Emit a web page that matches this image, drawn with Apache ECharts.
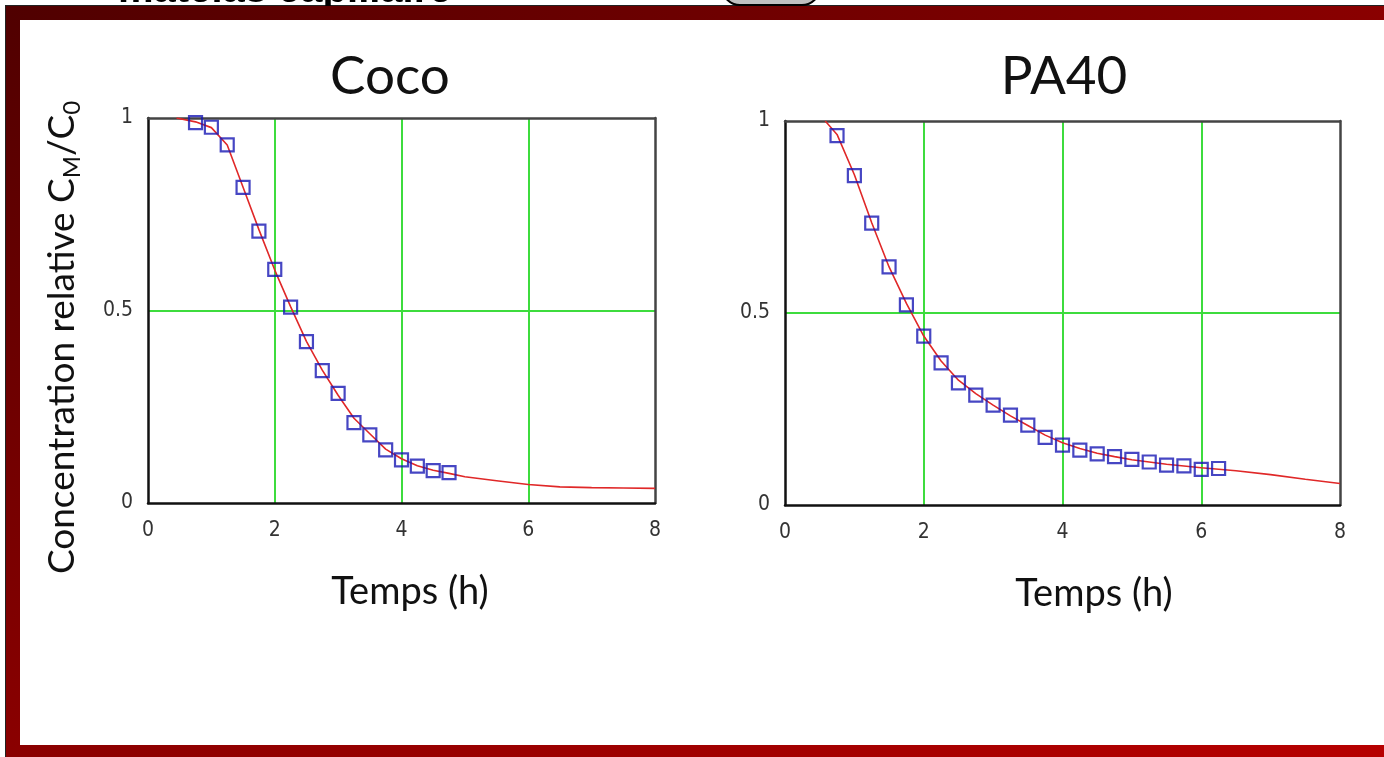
<!DOCTYPE html>
<html>
<head>
<meta charset="utf-8">
<script src="https://cdn.jsdelivr.net/npm/echarts@6/dist/echarts.min.js"></script>
<style>
  html, body { margin:0; padding:0; width:1384px; height:757px; overflow:hidden; background:#fff; }
  #frame { position:absolute; left:5px; top:5px; width:1400px; height:760px;
    border-top:1px solid #222; border-left:1px solid #222;
    background: linear-gradient(to bottom right, #500000 0%, #8b0000 50%, #b80000 100%); }
  #inner { position:absolute; left:20px; top:20px; width:1400px; height:725px; background:#fff; }
  #chart { position:absolute; left:0; top:0; width:1384px; height:757px; }
</style>
</head>
<body>
<div id="frame"></div>
<div id="inner"></div>
<div id="chart"></div>
<script>
// ---- data ----
const titles = ['Coco', 'PA40'];
const xTicks = [0, 2, 4, 6, 8];
const yTicks = [0, 0.5, 1];
const xName = 'Temps (h)';

const cocoX = [0.75, 1.0, 1.25, 1.5, 1.75, 2.0, 2.25, 2.5, 2.75, 3.0, 3.25, 3.5, 3.75, 4.0, 4.25, 4.5, 4.75];
const cocoY = [0.988, 0.976, 0.930, 0.820, 0.706, 0.607, 0.509, 0.419, 0.344, 0.285, 0.209, 0.177, 0.138, 0.112, 0.096, 0.084, 0.079];

const cocoFitX = [0.45, 0.75, 1.0, 1.25, 1.5, 1.75, 2.0, 2.25, 2.5, 2.75, 3.0, 3.25, 3.5, 3.75, 4.0, 4.25, 4.5, 4.75, 5.0, 5.5, 6.0, 6.5, 7.0, 7.5, 8.0];
const cocoFitY = [1.0, 0.99, 0.975, 0.93, 0.82, 0.71, 0.605, 0.51, 0.42, 0.345, 0.28, 0.22, 0.18, 0.14, 0.115, 0.097, 0.085, 0.077, 0.068, 0.058, 0.048, 0.042, 0.040, 0.039, 0.038];

const pa40X = [0.75, 1.0, 1.25, 1.5, 1.75, 2.0, 2.25, 2.5, 2.75, 3.0, 3.25, 3.5, 3.75, 4.0, 4.25, 4.5, 4.75, 5.0, 5.25, 5.5, 5.75, 6.0, 6.25];
const pa40Y = [0.962, 0.858, 0.734, 0.620, 0.521, 0.440, 0.370, 0.318, 0.286, 0.260, 0.234, 0.208, 0.176, 0.156, 0.143, 0.133, 0.126, 0.119, 0.112, 0.104, 0.102, 0.093, 0.095];

const pa40FitX = [0.58, 0.75, 1.0, 1.25, 1.5, 1.75, 2.0, 2.25, 2.5, 2.75, 3.0, 3.25, 3.5, 3.75, 4.0, 4.25, 4.5, 4.75, 5.0, 5.5, 6.0, 6.5, 7.0, 7.5, 8.0];
const pa40FitY = [1.0, 0.965, 0.86, 0.735, 0.62, 0.525, 0.44, 0.375, 0.325, 0.29, 0.26, 0.232, 0.207, 0.182, 0.162, 0.147, 0.135, 0.126, 0.118, 0.106, 0.097, 0.089, 0.079, 0.067, 0.056];

// ---- build ----
const zip = (xs, ys) => xs.map((x, i) => [x, ys[i]]);
const labelFont = "'Liberation Sans Narrow', 'DejaVu Sans Condensed', sans-serif";
const mainFont = "Lato, 'Open Sans', sans-serif";

const grids = [
  { left: 148, top: 118, width: 507, height: 385 },
  { left: 785, top: 121, width: 555, height: 384 }
];
const xStep = xTicks[1] - xTicks[0];
const yStep = yTicks[1] - yTicks[0];

function xMain(gi, namePad) {
  return {
    type: 'value', gridIndex: gi, position: 'bottom',
    min: xTicks[0], max: xTicks[xTicks.length - 1], interval: xStep,
    name: xName, nameLocation: 'middle', nameGap: 70,
    nameTextStyle: { fontFamily: mainFont, fontSize: 38, color: '#111', padding: namePad },
    axisLine: { show: true, onZero: false, lineStyle: { color: '#111', width: 2.5 } },
    axisTick: { show: false },
    axisLabel: { fontFamily: labelFont, fontSize: 21, color: '#333', margin: 17 },
    splitLine: { show: true, showMinLine: false, showMaxLine: false, lineStyle: { color: '#3ddc3d', width: 2 } }
  };
}
function xTop(gi) {
  return {
    type: 'value', gridIndex: gi, position: 'top',
    min: xTicks[0], max: xTicks[xTicks.length - 1], interval: xStep,
    axisLine: { show: true, onZero: false, lineStyle: { color: '#444', width: 2.5 } },
    axisTick: { show: false }, axisLabel: { show: false }, splitLine: { show: false }
  };
}
function yMain(gi, withName) {
  const ax = {
    type: 'value', gridIndex: gi, position: 'left',
    min: yTicks[0], max: yTicks[yTicks.length - 1], interval: yStep,
    axisLine: { show: true, onZero: false, lineStyle: { color: '#111', width: 2.5 } },
    axisTick: { show: false },
    axisLabel: { fontFamily: labelFont, fontSize: 21, color: '#333', margin: 15 },
    splitLine: { show: true, showMinLine: false, showMaxLine: false, lineStyle: { color: '#3ddc3d', width: 2 } }
  };
  if (withName) {
    ax.name = '{a|Concentration relative C}{s|M}{a|/C}{s|0}';
    ax.nameLocation = 'middle';
    ax.nameGap = 64;
    ax.nameTextStyle = {
      fontFamily: mainFont, fontSize: 37, color: '#111', padding: [0, 54, 0, 0],
      rich: {
        a: { fontFamily: mainFont, fontSize: 37, color: '#111', lineHeight: 44 },
        s: { fontFamily: mainFont, fontSize: 24, color: '#111', lineHeight: 24, verticalAlign: 'bottom' }
      }
    };
  }
  return ax;
}
function yRight(gi) {
  return {
    type: 'value', gridIndex: gi, position: 'right',
    min: yTicks[0], max: yTicks[yTicks.length - 1], interval: yStep,
    axisLine: { show: true, onZero: false, lineStyle: { color: '#444', width: 2.5 } },
    axisTick: { show: false }, axisLabel: { show: false }, splitLine: { show: false }
  };
}

function fitSeries(ai, data) {
  return { type: 'line', xAxisIndex: ai, yAxisIndex: ai, data: data, showSymbol: false, symbol: 'none',
    lineStyle: { color: '#e02828', width: 1.6 }, z: 3, silent: true };
}
function ptSeries(ai, data) {
  return { type: 'scatter', xAxisIndex: ai, yAxisIndex: ai, data: data, symbol: 'rect', symbolSize: 13,
    itemStyle: { color: 'rgba(0,0,0,0)', borderColor: '#1818b4', borderWidth: 2.2 }, z: 4, silent: true };
}

const chart = echarts.init(document.getElementById('chart'), null, { renderer: 'canvas' });
chart.setOption({
  animation: false,
  backgroundColor: 'transparent',
  grid: grids,
  xAxis: [xMain(0, [0, 0, 0, 17]), xMain(1, [0, 0, 0, 63]), xTop(0), xTop(1)],
  yAxis: [yMain(0, true), yMain(1, false), yRight(0), yRight(1)],
  series: [
    fitSeries(0, zip(cocoFitX, cocoFitY)),
    ptSeries(0, zip(cocoX, cocoY)),
    fitSeries(1, zip(pa40FitX, pa40FitY)),
    ptSeries(1, zip(pa40X, pa40Y))
  ],
  graphic: [
    { type: 'text', x: 390, y: 77, z: 5, style: { text: titles[0], font: '53px ' + mainFont, fill: '#111', textAlign: 'center', textVerticalAlign: 'middle' } },
    { type: 'text', x: 1064, y: 77, z: 5, style: { text: titles[1], font: '53px ' + mainFont, fill: '#111', textAlign: 'center', textVerticalAlign: 'middle' } },
    // clipped slide header above the frame
    { type: 'text', x: 118, y: 11, z: 1, style: { text: 'matelas capillaire', font: 'bold 40px "Liberation Sans", Arial, sans-serif', fill: '#000', textAlign: 'left', textVerticalAlign: 'bottom' } },
    { type: 'rect', z: 1, shape: { x: 722, y: -40, width: 98, height: 45, r: 18 }, style: { fill: '#c0c0c0', stroke: '#000', lineWidth: 2 } },
    { type: 'rect', z: 10, shape: { x: 6, y: 6, width: 1380, height: 14 }, style: {
        fill: new echarts.graphic.LinearGradient(0, 0, 1, 0, [{ offset: 0, color: '#500000' }, { offset: 1, color: '#8a0000' }]) } }
  ]
});
</script>
</body>
</html>
